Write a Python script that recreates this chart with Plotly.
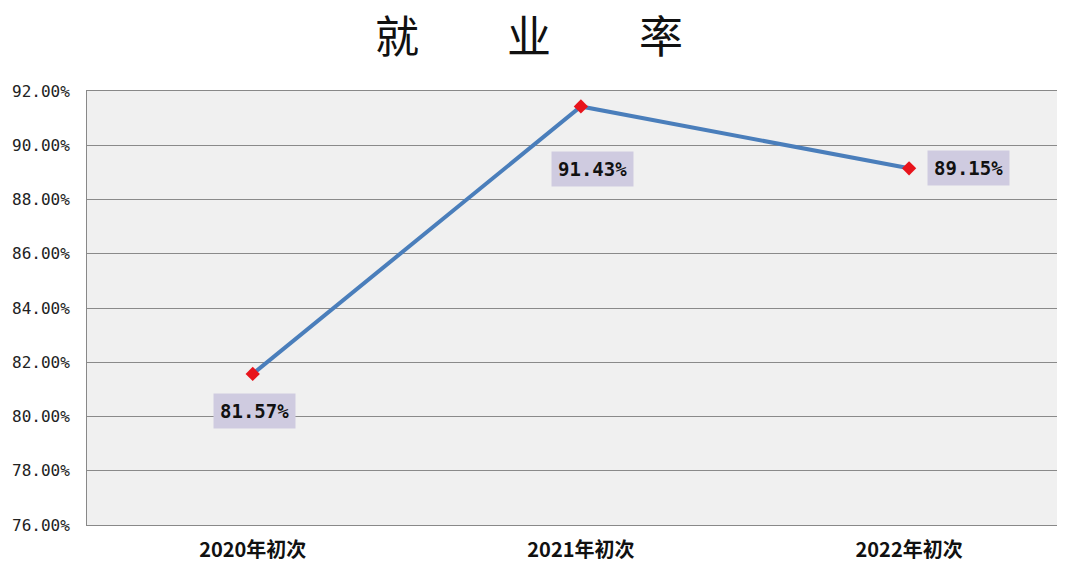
import plotly.graph_objects as go

categories = ["2020年初次", "2021年初次", "2022年初次"]
rates = [81.57, 91.43, 89.15]
label_text = ["81.57%", "91.43%", "89.15%"]
y_ticks = [76, 78, 80, 82, 84, 86, 88, 90, 92]
y_tick_text = ["76.00%", "78.00%", "80.00%", "82.00%", "84.00%", "86.00%", "88.00%", "90.00%", "92.00%"]

fig = go.Figure()
fig.add_trace(go.Scatter(
    x=categories, y=rates, mode="lines+markers",
    line=dict(color="#4a7ebb", width=4),
    marker=dict(symbol="diamond", size=11, color="#e8141c"),
    hoverinfo="skip", showlegend=False,
))

offsets = [(2, -37), (12, -63), (59, 0)]
for c, v, t, (dx, dy) in zip(categories, rates, label_text, offsets):
    fig.add_annotation(
        x=c, y=v, text=t, showarrow=False,
        xshift=dx, yshift=dy,
        font=dict(family="DejaVu Sans Mono, monospace", size=19, color="#111111", weight="bold"),
        bgcolor="#cfcbe0", borderpad=6,
    )

gap = "&nbsp;" * 8
fig.update_layout(
    width=1057, height=557,
    margin=dict(l=79, r=2, t=83, b=34),
    paper_bgcolor="white", plot_bgcolor="#f0f0f0",
    title=dict(text="就" + gap + "业" + gap + "率",
               x=0.493, xanchor="center", y=0.947, yanchor="middle",
               font=dict(family="Liberation Serif, Noto Sans CJK SC", size=44, color="#111111")),
    xaxis=dict(showgrid=False, showline=True, linecolor="#888888", linewidth=1,
               mirror=True, ticks="", range=[-0.505, 2.466], ticklabelstandoff=7,
               tickfont=dict(family="Noto Sans CJK SC", size=20, color="#111111", weight="bold")),
    yaxis=dict(range=[76, 92], tickvals=y_ticks, ticktext=y_tick_text,
               showgrid=True, gridcolor="#8a8a8a", gridwidth=1,
               showline=True, linecolor="#888888", linewidth=1, mirror=True,
               zeroline=False, ticks="", ticklabelstandoff=13,
               tickfont=dict(family="DejaVu Sans Mono, monospace", size=16, color="#222222")),
)

fig.write_html("out.html")
